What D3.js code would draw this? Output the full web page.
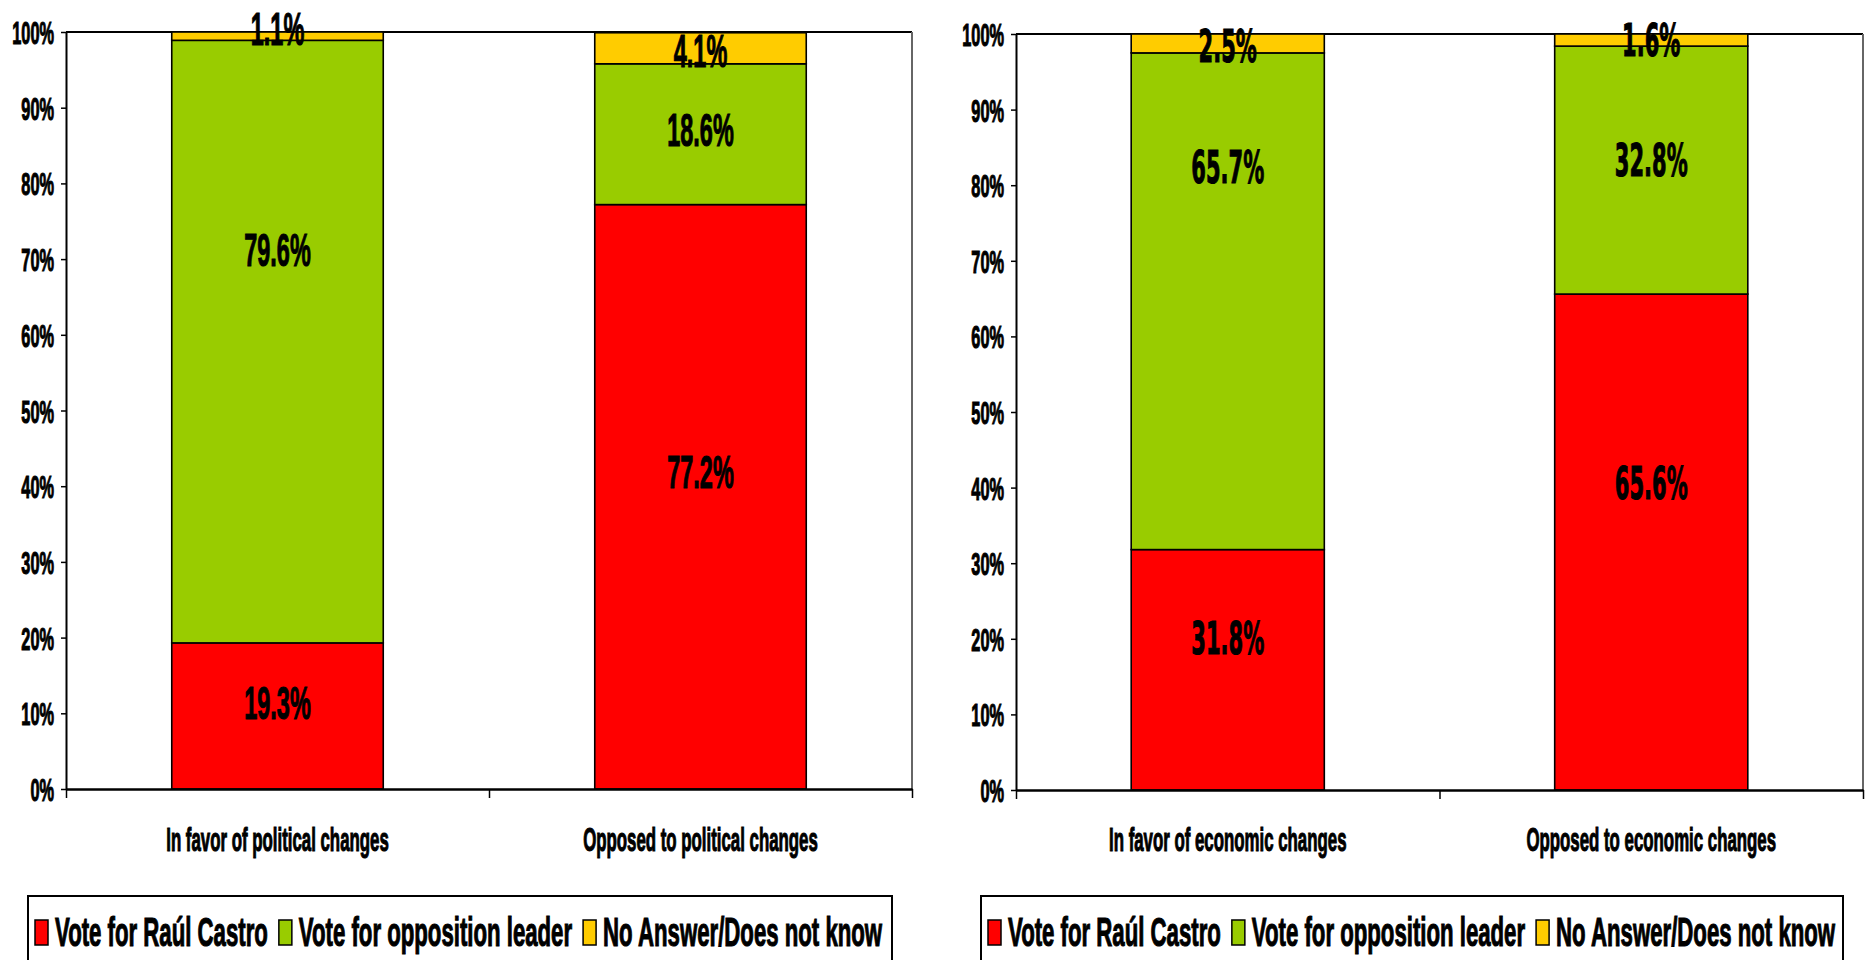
<!DOCTYPE html>
<html>
<head>
<meta charset="utf-8">
<script src="https://cdn.jsdelivr.net/npm/d3@7"></script>
<style>
  html, body { margin: 0; padding: 0; background: #fff; }
  svg { display: block; }
  text { fill: #000; font-family: "Liberation Sans", Arial, sans-serif; font-weight: bold;
         stroke: #000; stroke-width: 0.9; vector-effect: non-scaling-stroke; }
</style>
</head>
<body>
<svg id="chart" width="1866" height="960"></svg>
<script>
// ---------- data ----------
const seriesNames = ["Vote for Raúl Castro", "Vote for opposition leader", "No Answer/Does not know"];
const seriesColors = ["#FF0000", "#99CC00", "#FFCC00"];

const categoriesPolitical = ["In favor of political changes", "Opposed to political changes"];
const raulPolitical = [19.3, 77.2];
const oppositionPolitical = [79.6, 18.6];
const noAnswerPolitical = [1.1, 4.1];

const categoriesEconomic = ["In favor of economic changes", "Opposed to economic changes"];
const raulEconomic = [31.8, 65.6];
const oppositionEconomic = [65.7, 32.8];
const noAnswerEconomic = [2.5, 1.6];

const yTicks = [0, 10, 20, 30, 40, 50, 60, 70, 80, 90, 100];

// where each data label sits, in value units
const labelAtPolitical = [[11.4, 71.3, 100.5], [42.0, 87.1, 97.5]];
const labelAtEconomic = [[20.1, 82.5, 98.5], [40.7, 83.3, 99.2]];

// ---------- layout ----------
const panels = [
  { cats: categoriesPolitical, series: [raulPolitical, oppositionPolitical, noAnswerPolitical],
    labelAt: labelAtPolitical, x0: 66, x1: 912, yTop: 32, yBot: 789, pad: 0.5,
    legL: 28, legR: 892, labFont: '"Liberation Sans", Arial, sans-serif', labSize: 46, labSx: 0.51 },
  { cats: categoriesEconomic, series: [raulEconomic, oppositionEconomic, noAnswerEconomic],
    labelAt: labelAtEconomic, x0: 1016, x1: 1863, yTop: 34, yBot: 790, pad: 0.544,
    legL: 981, legR: 1843, labFont: '"DejaVu Sans", sans-serif', labSize: 45, labSx: 0.467 }
];

const svg = d3.select("#chart");

panels.forEach(p => {
  const g = svg.append("g");
  const y = d3.scaleLinear().domain([0, 100]).range([p.yBot, p.yTop]);
  const x = d3.scaleBand().domain(p.cats).range([p.x0, p.x1])
    .paddingInner(p.pad).paddingOuter(p.pad / 2);
  const xb = d3.scaleLinear().domain([0, p.cats.length]).range([p.x0, p.x1]);

  // plot area border (top + right)
  g.append("line").attr("x1", p.x0).attr("x2", p.x1).attr("y1", p.yTop).attr("y2", p.yTop)
    .attr("stroke", "#000").attr("stroke-width", 2);
  g.append("line").attr("x1", p.x1).attr("x2", p.x1).attr("y1", p.yTop).attr("y2", p.yBot)
    .attr("stroke", "#666").attr("stroke-width", 2);

  // stacked bars
  const rows = p.cats.map((c, i) => {
    const o = { cat: c };
    seriesNames.forEach((s, j) => o[s] = p.series[j][i]);
    return o;
  });
  const stacked = d3.stack().keys(seriesNames)(rows);
  stacked.forEach((layer, j) => {
    g.append("g").selectAll("rect").data(layer).join("rect")
      .attr("x", d => x(d.data.cat))
      .attr("width", x.bandwidth())
      .attr("y", d => y(d[1]))
      .attr("height", d => y(d[0]) - y(d[1]))
      .attr("fill", seriesColors[j])
      .attr("stroke", "#000").attr("stroke-width", 1.6);
  });

  // y axis
  const ya = g.append("g").attr("transform", `translate(${p.x0},0)`)
    .call(d3.axisLeft(y).tickValues(yTicks).tickFormat(d => d + "%").tickSize(5).tickSizeOuter(0));
  ya.select(".domain").attr("stroke", "#000").attr("stroke-width", 2);
  ya.selectAll(".tick line").attr("stroke", "#000").attr("stroke-width", 1.5);
  const tSx = 0.51;
  ya.selectAll(".tick text")
    .attr("font-size", 32).attr("font-family", null)
    .attr("x", -12 / tSx).attr("dy", "0.36em")
    .attr("transform", `scale(${tSx},1)`);

  // x axis (boundary ticks)
  const xa = g.append("g").attr("transform", `translate(0,${p.yBot})`)
    .call(d3.axisBottom(xb).tickValues(d3.range(p.cats.length + 1)).tickFormat("").tickSize(9).tickSizeOuter(0));
  xa.select(".domain").attr("stroke", "#000").attr("stroke-width", 2.5);
  xa.selectAll(".tick line").attr("stroke", "#000").attr("stroke-width", 1.5);

  // category labels
  const cSx = 0.51;
  g.append("g").selectAll("text").data(p.cats).join("text")
    .attr("transform", d => `translate(${x(d) + x.bandwidth() / 2},851) scale(${cSx},1)`)
    .attr("text-anchor", "middle").attr("font-size", 33)
    .text(d => d);

  // data labels
  const lab = g.append("g");
  p.cats.forEach((c, i) => {
    seriesNames.forEach((s, j) => {
      const v = p.series[j][i];
      lab.append("text")
        .attr("transform", `translate(${x(c) + x.bandwidth() / 2},${y(p.labelAt[i][j])}) scale(${p.labSx},1)`)
        .attr("text-anchor", "middle").attr("dy", "0.36em")
        .style("font-family", p.labFont).attr("font-size", p.labSize)
        .text(v.toFixed(1) + "%");
    });
  });

  // legend
  const lg = svg.append("g");
  lg.append("rect").attr("x", p.legL).attr("y", 896).attr("width", p.legR - p.legL).attr("height", 80)
    .attr("fill", "#fff").attr("stroke", "#000").attr("stroke-width", 2);
  const lSx = 0.555;
  let cx = p.legL + 7;
  seriesNames.forEach((s, j) => {
    lg.append("rect").attr("x", cx).attr("y", 920).attr("width", 13).attr("height", 25)
      .attr("fill", seriesColors[j]).attr("stroke", "#000").attr("stroke-width", 1.5);
    cx += 20;
    const t = lg.append("text")
      .attr("transform", `translate(${cx},946) scale(${lSx},1)`)
      .attr("font-size", 40).text(s);
    cx += t.node().getComputedTextLength() * lSx + 11;
  });
});
</script>
</body>
</html>
